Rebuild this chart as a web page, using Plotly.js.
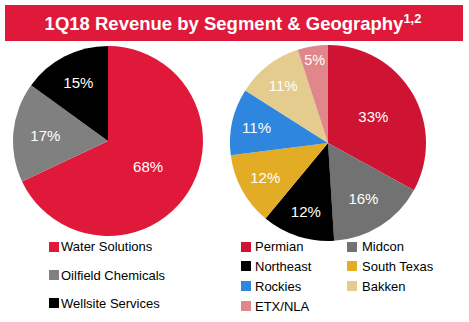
<!DOCTYPE html>
<html>
<head>
<meta charset="utf-8">
<script src="https://cdn.plot.ly/plotly-3.0.1.min.js"></script>
<style>html,body{margin:0;padding:0;background:#fff}#chart{width:469px;height:322px}</style>
</head>
<body>
<div id="chart"></div>
<script>
const segments = ["Water Solutions", "Oilfield Chemicals", "Wellsite Services"];
const segmentShares = [68, 17, 15];
const segmentColors = ["#E0193A", "#808080", "#000000"];

const regions = ["Permian", "Midcon", "Northeast", "South Texas", "Rockies", "Bakken", "ETX/NLA"];
const regionShares = [33, 16, 12, 12, 11, 11, 5];
const regionColors = ["#CE1432", "#727272", "#000000", "#E2AD24", "#2E86DE", "#E3CC8D", "#E1868A"];

const W = 469, H = 322;
const px = x => x / W;
const py = y => (H - y) / H;
const FONT = '"Liberation Sans", Arial, Helvetica, sans-serif';

const pieCommon = {
  type: 'pie', sort: false, direction: 'clockwise', rotation: 0,
  textinfo: 'text', texttemplate: '%{value}%', textposition: 'inside',
  insidetextorientation: 'horizontal',
  textfont: {family: FONT, size: 15, color: '#ffffff'},
  hoverinfo: 'label+percent', showlegend: false
};

const data = [
  Object.assign({}, pieCommon, {
    labels: segments, values: segmentShares,
    marker: {colors: segmentColors, line: {width: 0}},
    domain: {x: [px(13), px(203)], y: [py(236), py(46)]}
  }),
  Object.assign({}, pieCommon, {
    labels: regions, values: regionShares,
    marker: {colors: regionColors, line: {width: 0}},
    domain: {x: [px(230), px(426)], y: [py(241), py(45)]}
  })
];

const shapes = [{
  type: 'rect', xref: 'paper', yref: 'paper',
  x0: px(5), x1: px(463), y0: py(41), y1: py(5),
  fillcolor: '#E0193A', line: {width: 0}, layer: 'below'
}];
const annotations = [];

function legendItem(label, color, sqX, textX, yc) {
  shapes.push({type: 'rect', xref: 'paper', yref: 'paper',
    x0: px(sqX), x1: px(sqX + 10), y0: py(yc + 5), y1: py(yc - 5),
    fillcolor: color, line: {width: 0}});
  annotations.push({xref: 'paper', yref: 'paper', x: px(textX), y: py(yc),
    xanchor: 'left', yanchor: 'middle', showarrow: false, text: label,
    font: {family: FONT, size: 13, color: '#000000'}});
}

const leftRows = [247, 275, 303];
segments.forEach((s, i) => legendItem(s, segmentColors[i], 49, 59, leftRows[i]));

const rightRows = [247, 266, 286, 306];
regions.forEach((r, i) => {
  const col = i % 2, row = Math.floor(i / 2);
  legendItem(r, regionColors[i], col === 0 ? 241 : 347, col === 0 ? 253 : 360, rightRows[row]);
});

const layout = {
  width: W, height: H,
  margin: {l: 0, r: 0, t: 0, b: 0},
  paper_bgcolor: '#ffffff', plot_bgcolor: '#ffffff',
  title: {
    text: '<b>1Q18 Revenue by Segment & Geography<sup>1,2</sup></b>',
    x: px(233), xanchor: 'center', y: py(24), yanchor: 'middle',
    xref: 'paper', yref: 'container',
    font: {family: FONT, size: 18.5, color: '#ffffff'}
  },
  shapes: shapes,
  annotations: annotations
};

Plotly.newPlot('chart', data, layout, {displayModeBar: false, staticPlot: true});
</script>
</body>
</html>
